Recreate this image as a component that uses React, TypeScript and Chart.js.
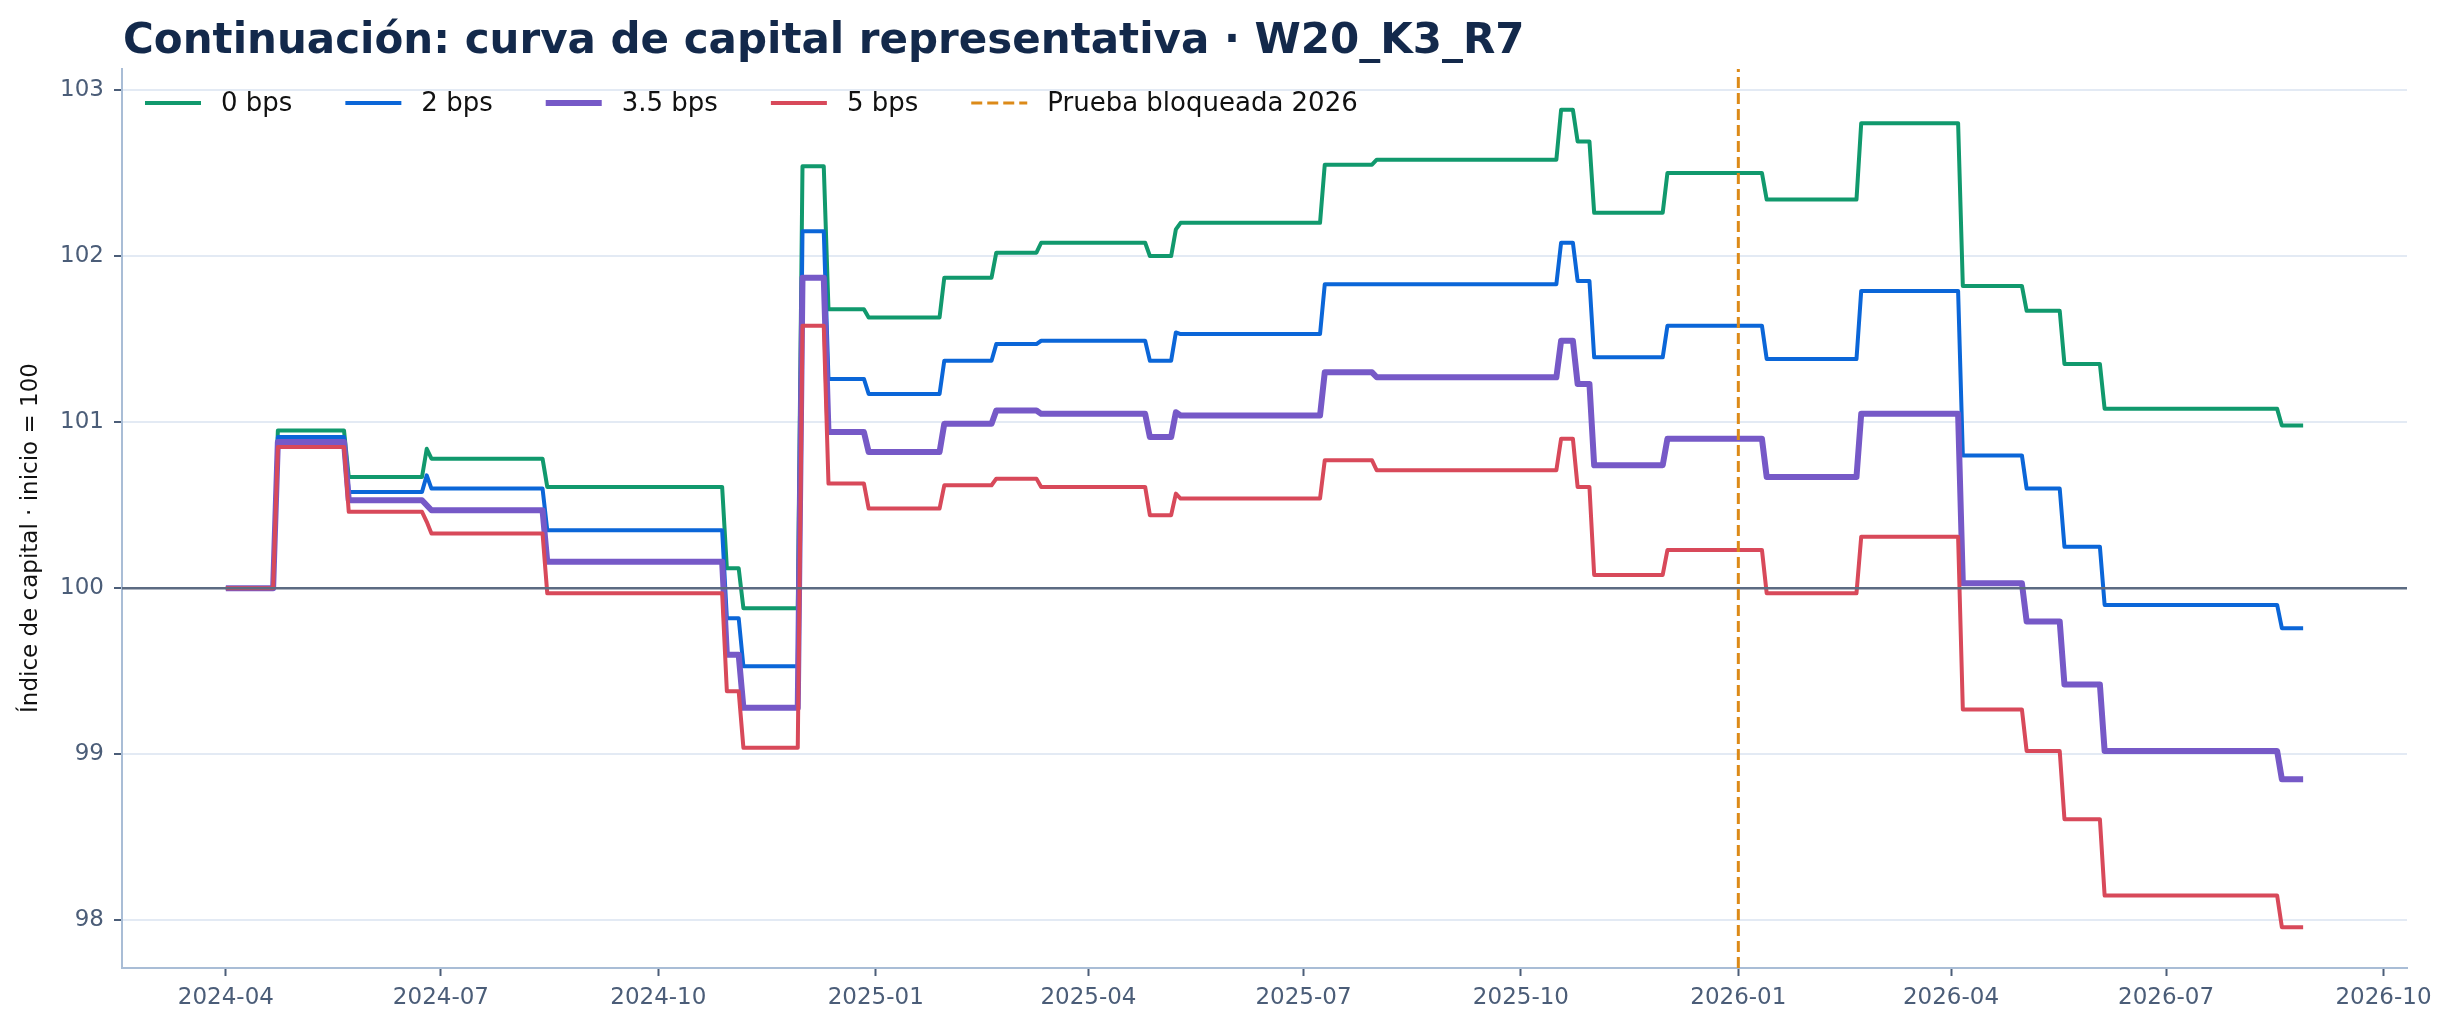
import React, { useEffect, useRef } from "react";
import { Chart, registerables } from "chart.js";

Chart.register(...registerables);

// dates where every curve changes level (same rebalance calendar for all costs)
const stepDates = [
  "2024-04-01", "2024-04-21", "2024-05-21", "2024-06-23", "2024-06-25",
  "2024-08-13", "2024-10-28", "2024-11-04", "2024-11-29", "2024-12-10",
  "2024-12-27", "2025-01-28", "2025-02-19", "2025-03-10", "2025-04-25",
  "2025-05-06", "2025-05-08", "2025-07-08", "2025-07-30", "2025-10-16",
  "2025-10-23", "2025-10-30", "2025-11-30", "2026-01-11", "2026-02-20",
  "2026-04-04", "2026-05-01", "2026-05-17", "2026-06-03", "2026-08-17",
];
const endDate = "2026-08-28";

const bps0 = [
  100, 100.95, 100.67, 100.84, 100.78, 100.61, 100.12, 99.88, 102.54, 101.68,
  101.63, 101.87, 102.02, 102.08, 102.0, 102.16, 102.2, 102.55, 102.58, 102.88,
  102.69, 102.26, 102.5, 102.34, 102.8, 101.82, 101.67, 101.35, 101.08, 100.98,
];
const bps2 = [
  100, 100.91, 100.58, 100.68, 100.6, 100.35, 99.82, 99.53, 102.15, 101.26,
  101.17, 101.37, 101.47, 101.49, 101.37, 101.54, 101.53, 101.83, 101.83, 102.08,
  101.85, 101.39, 101.58, 101.38, 101.79, 100.8, 100.6, 100.25, 99.9, 99.76,
];
const bps35 = [
  100, 100.88, 100.53, 100.5, 100.47, 100.16, 99.6, 99.28, 101.87, 100.94,
  100.82, 100.99, 101.07, 101.05, 100.91, 101.06, 101.04, 101.3, 101.27, 101.49,
  101.23, 100.74, 100.9, 100.67, 101.05, 100.03, 99.8, 99.42, 99.02, 98.85,
];
const bps5 = [
  100, 100.85, 100.46, 100.4, 100.33, 99.97, 99.38, 99.04, 101.58, 100.63,
  100.48, 100.62, 100.66, 100.61, 100.44, 100.57, 100.54, 100.77, 100.71, 100.9,
  100.61, 100.08, 100.23, 99.97, 100.31, 99.27, 99.02, 98.61, 98.15, 97.96,
];

const lockedDate = "2026-01-01";
const xTickLabels = [
  "2024-04", "2024-07", "2024-10", "2025-01", "2025-04", "2025-07",
  "2025-10", "2026-01", "2026-04", "2026-07", "2026-10",
];
const yTicks = [98, 99, 100, 101, 102, 103];

const TITLE = "Continuación: curva de capital representativa · W20_K3_R7";
const Y_LABEL = "Índice de capital · inicio = 100";
const FONT = "'DejaVu Sans', sans-serif";
const DAY = 86400000;
const toMs = (s: string) => Date.parse(s + "T00:00:00Z");

// each change moves from the old level to the new one over two days
function stepPoints(levels: number[]) {
  const pts: { x: number; y: number }[] = [{ x: toMs(stepDates[0]), y: levels[0] }];
  for (let i = 1; i < levels.length; i++) {
    const d = toMs(stepDates[i]);
    pts.push({ x: d, y: levels[i - 1] });
    pts.push({ x: d + 2 * DAY, y: levels[i] });
  }
  pts.push({ x: toMs(endDate), y: levels[levels.length - 1] });
  return pts;
}

const xTickValues = xTickLabels.map((m) => toMs(m + "-01"));
const first = toMs(stepDates[0]);
const last = toMs(endDate);
const xMin = first - 0.05 * (last - first);
const xMax = last + 0.05 * (last - first);
const allY = [...bps0, ...bps2, ...bps35, ...bps5];
const lo = Math.min(...allY);
const hi = Math.max(...allY);
const yMin = lo - 0.05 * (hi - lo);
const yMax = hi + 0.05 * (hi - lo);

// title, y label and matplotlib-like legend drawn by hand
const overlay = {
  id: "overlay",
  afterDraw(chart: any) {
    const ctx = chart.ctx as CanvasRenderingContext2D;
    ctx.save();
    ctx.fillStyle = "#13294b";
    ctx.font = `bold 42px ${FONT}`;
    ctx.textBaseline = "alphabetic";
    ctx.fillText(TITLE, 123, 53);

    ctx.save();
    ctx.translate(31, 538);
    ctx.rotate(-Math.PI / 2);
    ctx.font = `23px ${FONT}`;
    ctx.fillStyle = "#111111";
    ctx.textAlign = "center";
    ctx.textBaseline = "middle";
    ctx.fillText(Y_LABEL, 0, 0);
    ctx.restore();

    ctx.font = `26px ${FONT}`;
    ctx.textBaseline = "middle";
    let x = chart.chartArea.left + 23;
    const y = 103;
    chart.data.datasets.forEach((ds: any) => {
      if (!ds.label) return;
      ctx.strokeStyle = ds.borderColor;
      ctx.lineWidth = ds.borderWidth;
      ctx.setLineDash(ds.borderDash || []);
      ctx.beginPath();
      ctx.moveTo(x, y);
      ctx.lineTo(x + 56, y);
      ctx.stroke();
      ctx.setLineDash([]);
      ctx.fillStyle = "#111111";
      ctx.fillText(ds.label, x + 76, y + 1);
      x += 76 + ctx.measureText(ds.label).width + 53;
    });
    ctx.restore();
  },
};

export default function App() {
  const canvasRef = useRef<HTMLCanvasElement | null>(null);
  const chartRef = useRef<Chart | null>(null);

  useEffect(() => {
    if (!canvasRef.current) return;
    if (chartRef.current) chartRef.current.destroy();

    const line = (label: string, data: number[], color: string, width: number, order: number) => ({
      label,
      data: stepPoints(data),
      borderColor: color,
      backgroundColor: color,
      borderWidth: width,
      pointRadius: 0,
      tension: 0,
      borderJoinStyle: "round" as const,
      order,
    });

    chartRef.current = new Chart(canvasRef.current, {
      type: "line",
      data: {
        datasets: [
          line("0 bps", bps0, "#11996d", 4, 5),
          line("2 bps", bps2, "#0b66d8", 4, 4),
          line("3.5 bps", bps35, "#7659c7", 6, 3),
          line("5 bps", bps5, "#d8495a", 4, 2),
          {
            label: "",
            data: [
              { x: xMin, y: 100 },
              { x: xMax, y: 100 },
            ],
            borderColor: "#5c6b82",
            borderWidth: 2.4,
            pointRadius: 0,
            order: 1,
          },
          {
            label: "Prueba bloqueada 2026",
            data: [
              { x: toMs(lockedDate), y: yMin },
              { x: toMs(lockedDate), y: yMax },
            ],
            borderColor: "#dc8a18",
            borderWidth: 3,
            borderDash: [11, 5],
            pointRadius: 0,
            order: 0,
          },
        ],
      },
      options: {
        animation: false,
        responsive: true,
        maintainAspectRatio: false,
        layout: { padding: { left: 0, top: 69, right: 47, bottom: 0 } },
        plugins: {
          legend: { display: false },
          title: { display: false },
          tooltip: { enabled: false },
        },
        scales: {
          x: {
            type: "linear",
            min: xMin,
            max: xMax,
            afterBuildTicks: (s: any) => {
              s.ticks = xTickValues.map((v) => ({ value: v }));
            },
            afterFit: (s: any) => {
              s.height = 61;
            },
            grid: {
              drawOnChartArea: false,
              tickLength: 8,
              tickColor: "#4b5d78",
              tickWidth: 2,
            },
            border: { color: "#a9bdd6", width: 2 },
            ticks: {
              autoSkip: false,
              maxRotation: 0,
              padding: 8,
              color: "#4b5d78",
              font: { family: FONT, size: 23 },
              callback: (v: any) => xTickLabels[xTickValues.indexOf(Number(v))] ?? "",
            },
          },
          y: {
            type: "linear",
            min: yMin,
            max: yMax,
            afterBuildTicks: (s: any) => {
              s.ticks = yTicks.map((v) => ({ value: v }));
            },
            afterFit: (s: any) => {
              s.width = 122;
            },
            grid: {
              color: "#e3eaf4",
              lineWidth: 2,
              tickLength: 8,
              tickColor: "#4b5d78",
              tickWidth: 2,
            },
            border: { color: "#a9bdd6", width: 2 },
            ticks: {
              padding: 10,
              color: "#4b5d78",
              font: { family: FONT, size: 23 },
              callback: (v: any) => String(v),
            },
          },
        },
      },
      plugins: [overlay],
    });

    return () => {
      if (chartRef.current) {
        chartRef.current.destroy();
        chartRef.current = null;
      }
    };
  }, []);

  return (
    <div style={{ position: "fixed", left: 0, top: 0, width: "100vw", height: "100vh", background: "#ffffff" }}>
      <canvas ref={canvasRef} />
    </div>
  );
}
